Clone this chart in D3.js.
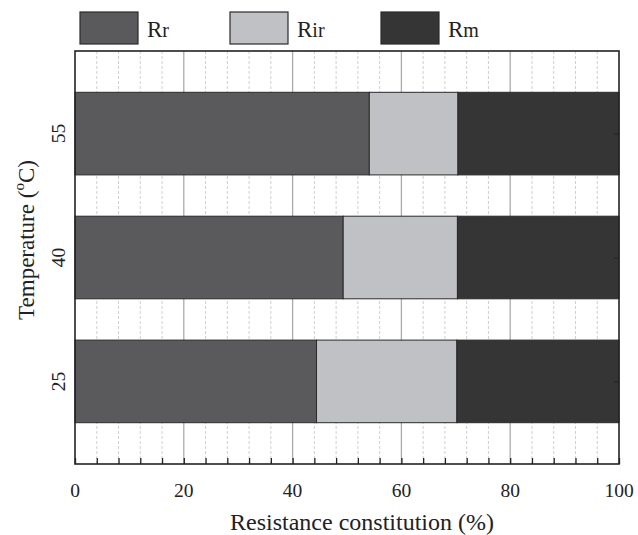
<!DOCTYPE html>
<html>
<head>
<meta charset="utf-8">
<script src="https://cdn.jsdelivr.net/npm/d3@7/dist/d3.min.js"></script>
<style>
  html, body { margin: 0; padding: 0; background: #fff; }
  svg text { font-family: "Liberation Serif", "Times New Roman", serif; fill: #222; }
</style>
</head>
<body>
<svg id="chart" width="638" height="535"></svg>
<script>
// Temperatures (°C) and the share of each resistance component (%)
const temperatures = [25, 40, 55];
const Rr  = [44.4, 49.3, 54.1];
const Rir = [25.8, 21.0, 16.3];
const Rm  = [29.8, 29.7, 29.6];
const seriesNames = ["Rr", "Rir", "Rm"];
const seriesColors = ["#5a5a5c", "#c0c1c4", "#353535"];
const xTicks = [0, 20, 40, 60, 80, 100];

const svg = d3.select("#chart");
const margin = { left: 75, right: 19, top: 51, bottom: 71 };
const W = 638, H = 535;
const x = d3.scaleLinear().domain([0, 100]).range([margin.left, W - margin.right]);
const y = d3.scaleLinear().domain([15, 65]).range([H - margin.bottom, margin.top]);
const barThickness = 10; // in temperature units

// Grid: dashed every 4 %, solid every 20 %
const grid = svg.append("g");
d3.range(4, 100, 4).forEach(v => {
  const major = v % 20 === 0;
  grid.append("line")
    .attr("x1", x(v)).attr("x2", x(v))
    .attr("y1", y(65)).attr("y2", y(15))
    .attr("stroke", major ? "#aaaaaa" : "#cfcfcf")
    .attr("stroke-width", major ? 1.3 : 1)
    .attr("stroke-dasharray", major ? null : "3,2");
});

// Stacked bars
const rows = temperatures.map((t, i) => ({ t, vals: [Rr[i], Rir[i], Rm[i]] }));
const bars = svg.append("g");
rows.forEach(r => {
  let acc = 0;
  r.vals.forEach((v, k) => {
    bars.append("rect")
      .attr("x", x(acc))
      .attr("width", x(acc + v) - x(acc))
      .attr("y", y(r.t + barThickness / 2))
      .attr("height", y(r.t - barThickness / 2) - y(r.t + barThickness / 2))
      .attr("fill", seriesColors[k])
      .attr("stroke", "#2a2a2a")
      .attr("stroke-width", 1);
    acc += v;
  });
});

// Bottom axis with inward ticks
const xAxis = d3.axisBottom(x).tickValues(d3.range(0, 101, 4))
  .tickSize(-6).tickPadding(0).tickFormat("");
const gx = svg.append("g").attr("transform", `translate(0,${y(15)})`).call(xAxis);
gx.select(".domain").remove();
gx.selectAll(".tick line").attr("stroke", "#222").attr("stroke-width", 1.3);

svg.append("g").selectAll("text").data(xTicks).join("text")
  .attr("x", d => x(d)).attr("y", y(15) + 33)
  .attr("text-anchor", "middle").attr("font-size", 19.5)
  .text(d => d);

// Right axis inward ticks at each temperature
const yAxisR = d3.axisRight(y).tickValues(temperatures).tickSize(-5).tickFormat("");
const gyr = svg.append("g").attr("transform", `translate(${x(100)},0)`).call(yAxisR);
gyr.select(".domain").remove();
gyr.selectAll(".tick line").attr("stroke", "#222");

// Left tick labels, rotated
svg.append("g").selectAll("text").data(temperatures).join("text")
  .attr("transform", d => `translate(${x(0) - 10},${y(d)}) rotate(-90)`)
  .attr("text-anchor", "middle").attr("font-size", 19.5)
  .text(d => d);

// Frame
svg.append("rect")
  .attr("x", x(0)).attr("y", y(65))
  .attr("width", x(100) - x(0)).attr("height", y(15) - y(65))
  .attr("fill", "none").attr("stroke", "#222").attr("stroke-width", 1.6);

// Axis titles
svg.append("text")
  .attr("x", (x(0) + x(100)) / 2 + 15).attr("y", 530)
  .attr("text-anchor", "middle").attr("font-size", 24)
  .text("Resistance constitution (%)");

const yt = svg.append("text")
  .attr("transform", `translate(34,240) rotate(-90)`)
  .attr("text-anchor", "middle").attr("font-size", 23);
yt.append("tspan").text("Temperature (");
yt.append("tspan").attr("font-size", 15).attr("dy", -10).text("o");
yt.append("tspan").attr("dy", 10).text("C)");

// Legend
const legendX = [80, 230, 381];
const leg = svg.append("g");
seriesNames.forEach((name, k) => {
  leg.append("rect")
    .attr("x", legendX[k]).attr("y", 12)
    .attr("width", 58).attr("height", 32)
    .attr("fill", seriesColors[k]).attr("stroke", "#2a2a2a").attr("stroke-width", 1.2);
  const t = leg.append("text")
    .attr("x", legendX[k] + 67).attr("y", 37)
    .attr("font-size", 23);
  t.append("tspan").text(name[0]);
  t.append("tspan").attr("font-size", 20).text(name.slice(1));
});
</script>
</body>
</html>
